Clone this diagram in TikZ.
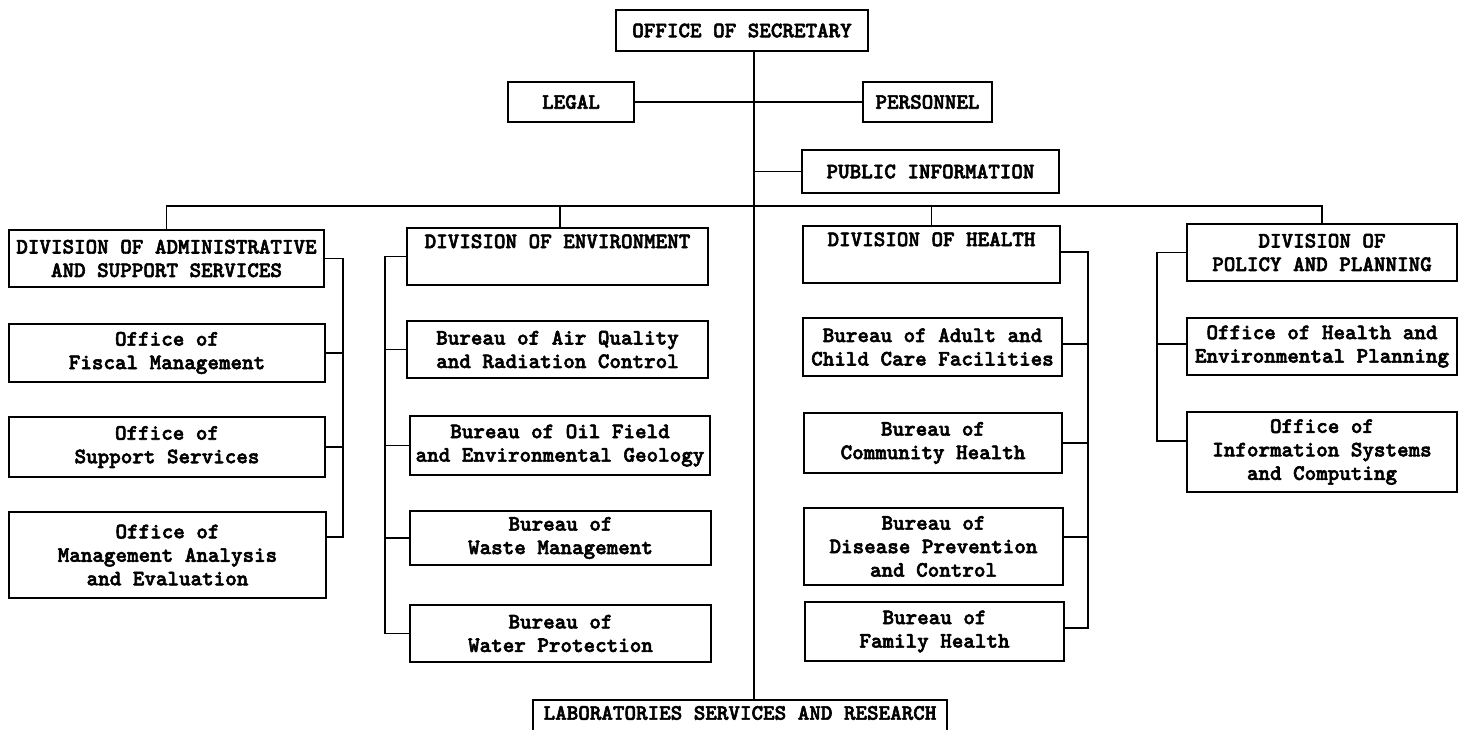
\documentclass[tikz,border=0pt]{standalone}
\usepackage{fontspec}
\newfontfamily\tw{lmmonolt10-bold}[Extension=.otf,FakeBold=2.5]
\begin{document}
\begin{tikzpicture}[x=1pt,y=-1pt,
  box/.style={draw,line width=2pt,inner sep=0pt,align=center,
    font=\tw\fontsize{22}{23.5}\selectfont,
    minimum width=#1},
  conn/.style={line width=1.8pt}]
\useasboundingbox (0,0) rectangle (1465,729);
\fill[white] (0,0) rectangle (1465,729);
\coordinate (spine) at (754,0);
\coordinate (bus) at (0,206);
\coordinate (ar) at (343,0);
\coordinate (el) at (385,0);
\coordinate (hr) at (1088,0);
\coordinate (pl) at (1157,0);

\node[box=252,minimum height=41] (sec) at (742,30.5) {OFFICE OF SECRETARY};
\node[box=126,minimum height=40] (legal) at (571,102) {LEGAL};
\node[box=129,minimum height=40] (pers) at (927.5,102) {PERSONNEL};
\node[box=257,minimum height=43] (pub) at (930.5,171.5) {PUBLIC INFORMATION};

\node[box=315,minimum height=57] (admin) at (166.5,258.5) {DIVISION OF ADMINISTRATIVE\\AND SUPPORT SERVICES};
\node[box=316,minimum height=58] (fiscal) at (167,353) {Office of\\Fiscal Management};
\node[box=316,minimum height=60] (support) at (167,447) {Office of\\Support Services};
\node[box=317,minimum height=86] (mgmt) at (167.5,555) {Office of\\Management Analysis\\and Evaluation};

\node[box=301,minimum height=57] (env) at (557.5,256.5) {DIVISION OF ENVIRONMENT\\ \strut};
\node[box=301,minimum height=57] (air) at (557.5,349.5) {Bureau of Air Quality\\and Radiation Control};
\node[box=300,minimum height=59] (oil) at (560,445.5) {Bureau of Oil Field\\and Environmental Geology};
\node[box=301,minimum height=54] (waste) at (560.5,538) {Bureau of\\Waste Management};
\node[box=301,minimum height=57] (water) at (560.5,633.5) {Bureau of\\Water Protection};

\node[box=257,minimum height=57] (health) at (931.5,254.5) {DIVISION OF HEALTH\\ \strut};
\node[box=259,minimum height=58] (adult) at (932.5,347) {Bureau of Adult and\\Child Care Facilities};
\node[box=258,minimum height=60] (comm) at (933,443) {Bureau of\\Community Health};
\node[box=259,minimum height=77] (dis) at (933.5,546.5) {Bureau of\\Disease Prevention\\and Control};
\node[box=259,minimum height=59] (fam) at (934.5,631.5) {Bureau of\\Family Health};

\node[box=270,minimum height=57] (pol) at (1322,252.5) {DIVISION OF\\POLICY AND PLANNING};
\node[box=270,minimum height=57] (ohe) at (1322,346.5) {Office of Health and\\Environmental Planning};
\node[box=270,minimum height=80] (ois) at (1322,452) {Office of\\Information Systems\\and Computing};

\node[box=414,anchor=north,inner ysep=6pt] (lab) at (740,699) {LABORATORIES SERVICES AND RESEARCH\\ \strut};

% spine and staff
\draw[conn] (sec.south -| spine) -- (lab.north -| spine);
\draw[conn] (legal.east) -- (pers.west);
\draw[conn] (pub.west) -- (pub.west -| spine);
% bus
\draw[conn] (admin.north) |- (bus -| pol.north) -- (pol.north);
\draw[conn] ([xshift=2.5pt]env.north) -- ([xshift=2.5pt]env.north |- bus);
\draw[conn] (health.north) -- (health.north |- bus);
% admin bracket
\draw[conn] (admin.east) -| ([yshift=18pt]mgmt.east -| ar) -- ([yshift=18pt]mgmt.east);
\draw[conn] (fiscal.east) -- (fiscal.east -| ar);
\draw[conn] (support.east) -- (support.east -| ar);
% env bracket
\draw[conn] (env.west) -| (water.west -| el) -- (water.west);
\draw[conn] (air.west) -- (air.west -| el);
\draw[conn] (oil.west) -- (oil.west -| el);
\draw[conn] (waste.west) -- (waste.west -| el);
% health bracket
\draw[conn] ([yshift=2.5pt]health.east) -| ([yshift=3.5pt]fam.east -| hr) -- ([yshift=3.5pt]fam.east);
\draw[conn] ([yshift=3pt]adult.east) -- ([yshift=3pt]adult.east -| hr);
\draw[conn] (comm.east) -- (comm.east -| hr);
\draw[conn] ([yshift=9.5pt]dis.east) -- ([yshift=9.5pt]dis.east -| hr);
% policy bracket
\draw[conn] (pol.west) -| ([yshift=11pt]ois.west -| pl) -- ([yshift=11pt]ois.west);
\draw[conn] ([yshift=2.5pt]ohe.west) -- ([yshift=2.5pt]ohe.west -| pl);
\end{tikzpicture}
\end{document}
